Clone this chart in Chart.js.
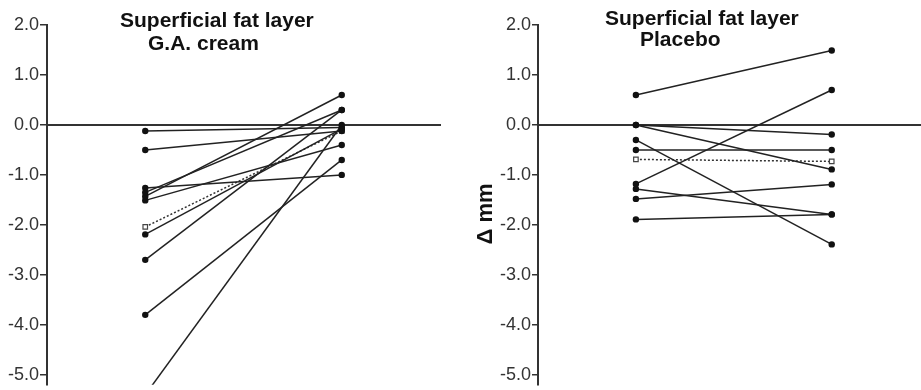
<!DOCTYPE html>
<html>
<head>
<meta charset="utf-8">
<script src="https://cdn.jsdelivr.net/npm/chart.js@4.4.1/dist/chart.umd.min.js"></script>
<style>
  body { margin: 0; background: #fff; overflow: hidden; }
  canvas { position: absolute; top: 0; }
</style>
</head>
<body>
<canvas id="leftChart" width="460" height="390" style="left:0"></canvas>
<canvas id="rightChart" width="467" height="390" style="left:460px"></canvas>
<script>
// y axis tick labels (both panels)
var yTicks = [2, 1, 0, -1, -2, -3, -4, -5];

// G.A. cream, change in mm before / after
var creamBefore = [-0.12, -0.5, -1.26, -1.35, -1.43, -1.51, -2.19, -2.7, -3.8, -5.4];
var creamAfter = [-0.05, -0.12, -1.0, 0.3, 0.6, -0.4, -0.08, 0.3, -0.7, 0.0];
var creamMean = [-2.04, -0.12];

// Placebo
var placeboBefore = [0.6, 0.0, 0.0, -0.3, -0.5, -1.18, -1.28, -1.48, -1.89];
var placeboAfter = [1.49, -0.19, -0.89, -2.39, -0.5, 0.7, -1.79, -1.19, -1.79];
var placeboMean = [-0.69, -0.73];

var FONT = '"Liberation Sans", Arial, sans-serif';

function makeDatasets(before, after, mean) {
    var sets = [];
    for (var i = 0; i < before.length; i++) {
        sets.push({
            data: [{x: 1, y: before[i]}, {x: 3, y: after[i]}],
            borderColor: '#222',
            borderWidth: 1.5,
            pointRadius: 3.2,
            pointBackgroundColor: '#111',
            pointBorderColor: '#111',
            pointBorderWidth: 0
        });
    }
    sets.push({
        data: [{x: 1, y: mean[0]}, {x: 3, y: mean[1]}],
        borderColor: '#333',
        borderWidth: 1.5,
        borderDash: [2, 2],
        pointStyle: 'rect',
        pointRadius: 3.2,
        pointBackgroundColor: '#fff',
        pointBorderColor: '#444',
        pointBorderWidth: 1.2
    });
    return sets;
}

// draws the two-line titles and the axis label
function textPlugin(lines) {
    return {
        id: 'texts',
        afterDraw: function(chart) {
            var ctx = chart.ctx;
            ctx.save();
            ctx.fillStyle = '#111';
            lines.forEach(function(l) {
                ctx.font = 'bold ' + l.size + 'px ' + FONT;
                ctx.translate(l.x, l.y);
                if (l.rotate) ctx.rotate(-Math.PI / 2);
                ctx.textAlign = l.align || 'left';
                ctx.textBaseline = 'alphabetic';
                ctx.fillText(l.text, 0, 0);
                ctx.setTransform(1, 0, 0, 1, 0, 0);
            });
            ctx.restore();
        }
    };
}

function makePanel(id, before, after, mean, xMax, axisWidth, padRight, tickLen, lines) {
    return new Chart(document.getElementById(id).getContext('2d'), {
        type: 'line',
        data: { datasets: makeDatasets(before, after, mean) },
        options: {
            responsive: false,
            animation: false,
            layout: { padding: { top: 25, bottom: 5, left: 0, right: padRight } },
            plugins: { legend: { display: false }, tooltip: { enabled: false } },
            scales: {
                x: {
                    type: 'linear',
                    min: 0,
                    max: xMax,
                    position: { y: 0 },
                    ticks: { display: false },
                    grid: { display: true, drawOnChartArea: false, drawTicks: false },
                    border: { display: true, color: '#333', width: 2 },
                    afterFit: function(s) {
                        s.height = 0;
                        s.paddingLeft = 0;
                        s.paddingRight = 0;
                    }
                },
                y: {
                    min: -5.2,
                    max: 2.0,
                    afterBuildTicks: function(s) {
                        s.ticks = yTicks.map(function(v) { return {value: v}; });
                    },
                    afterFit: function(s) {
                        s.width = axisWidth;
                        s.paddingTop = 0;
                        s.paddingBottom = 0;
                    },
                    ticks: {
                        color: '#333',
                        padding: 1,
                        font: { family: FONT, size: 18 },
                        callback: function(v) { return Number(v).toFixed(1); }
                    },
                    grid: { drawOnChartArea: false, drawTicks: true, tickLength: tickLen, color: '#333', lineWidth: 1.5 },
                    border: { display: true, color: '#333', width: 2 }
                }
            }
        },
        plugins: [textPlugin(lines)]
    });
}

makePanel('leftChart', creamBefore, creamAfter, creamMean, 4, 47, 20, 7, [
    {text: 'Superficial fat layer', x: 120, y: 27, size: 21},
    {text: 'G.A. cream', x: 148, y: 50, size: 21}
]);

makePanel('rightChart', placeboBefore, placeboAfter, placeboMean, 3.92, 78, 0, 6, [
    {text: 'Superficial fat layer', x: 145, y: 25, size: 21},
    {text: 'Placebo', x: 180, y: 46, size: 21},
    {text: '\u0394 mm', x: 32, y: 214, size: 22, rotate: true, align: 'center'}
]);
</script>
</body>
</html>
